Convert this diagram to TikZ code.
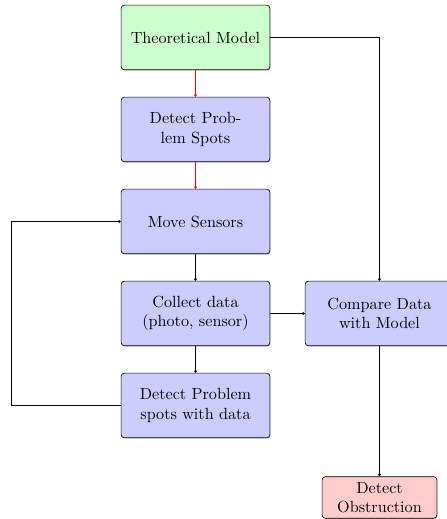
\documentclass[tikz,border=0pt]{standalone}
\usetikzlibrary{shadows,arrows.meta}
\begin{document}
\begin{tikzpicture}[
  box/.style={draw, rounded corners=2pt, text width=3cm, align=center, minimum height=4em, drop shadow={shadow xshift=0.4pt, shadow yshift=-0.4pt, opacity=0.6}},
  greenbox/.style={box, fill=green!20},
  bluebox/.style={box, fill=blue!20},
  redbox/.style={draw, rounded corners=2pt, fill=red!20, text width=2.2cm, align=center, minimum width=71pt, drop shadow={shadow xshift=0.4pt, shadow yshift=-0.4pt, opacity=0.6}},
  arr/.style={-{To[length=1.5pt,width=2pt]}, line width=0.4pt},
  redarr/.style={arr, red}
]
\useasboundingbox (-4.25,0.815) rectangle (5.446,-10.468);
\node[greenbox] (tm) at (0,0) {Theoretical Model};
\node[bluebox] (dps) at (0,-2) {Detect Prob\-lem Spots};
\node[bluebox] (ms) at (0,-4) {Move Sensors};
\node[bluebox] (cd) at (0,-6) {Collect data (photo, sensor)};
\node[bluebox] (dpsd) at (0,-8) {Detect Problem spots with data};
\node[bluebox] (cmp) at (4,-6) {Compare Data with Model};
\node[redbox] (obs) at (4,-10) {Detect Obstruction};
\coordinate (lp) at (-4,0);
\draw[redarr] (tm) -- (dps);
\draw[redarr] (dps) -- (ms);
\draw[arr] (ms) -- (cd);
\draw[arr] (cd) -- (dpsd);
\draw[arr] (cd) -- (cmp);
\draw[arr] (tm.east) -| (cmp.north);
\draw[arr] (cmp) -- (obs);
\draw[arr] (dpsd.west) -- (dpsd.west -| lp) |- (ms.west);
\end{tikzpicture}
\end{document}
